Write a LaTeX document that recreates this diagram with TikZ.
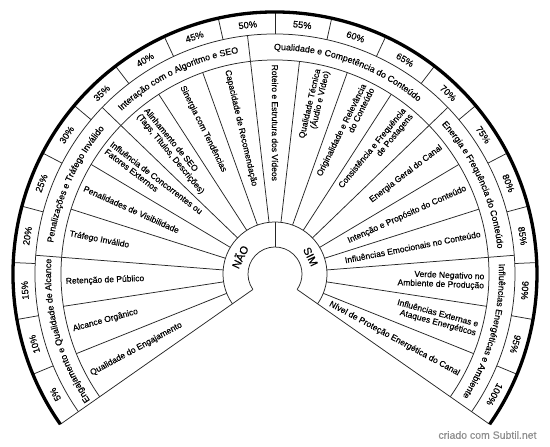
\documentclass[tikz,border=0pt]{standalone}
\usepackage{fontspec}
\setmainfont{Liberation Sans}[FakeBold=0.35]
\usetikzlibrary{decorations.text}
\newcommand\catfont{\fontsize{8.9}{10}\selectfont}
\begin{document}
\begin{tikzpicture}[
  thinline/.style={line width=0.75pt, draw=black!85},
  thickline/.style={line width=3.3pt, draw=black},
  itemtxt/.style={font=\fontsize{8.5}{9.1}\selectfont, inner sep=1pt},
  pcttxt/.style={font=\fontsize{9.3}{10}\selectfont, inner sep=0pt},
  yesno/.style={font=\fontsize{11}{12}\selectfont, inner sep=0pt},
  cattxt/.style={decorate, decoration={text along path, text align=center}}
]
\useasboundingbox (-275pt,-173pt) rectangle (275pt,274pt);

% rings
\draw[thinline] (215:240pt) arc[start angle=215, end angle=-35, radius=240pt];
\draw[thinline] (215:214pt) arc[start angle=215, end angle=-35, radius=214pt];
\draw[thinline] (215:52pt) arc[start angle=215, end angle=-35, radius=52pt];
\draw[thinline] (215:27pt) arc[start angle=215, end angle=-35, radius=27pt];
\draw[thinline] (215:27pt) -- (215:262pt);
\draw[thinline] (-35:27pt) -- (-35:262pt);
\draw[thinline] (90:27pt) -- (90:52pt);

% item spokes
\foreach \i in {1,...,18}{
  \pgfmathsetmacro\a{215-\i*250/19}
  \draw[thinline] (\a:52pt) -- (\a:214pt);
}
% category boundaries
\foreach \i in {3,6,9,13,16}{
  \pgfmathsetmacro\a{215-\i*250/19}
  \draw[thinline] (\a:214pt) -- (\a:240pt);
}
% percent spokes
\foreach \k in {1,...,19}{
  \pgfmathsetmacro\a{215-\k*12.5}
  \draw[thinline] (\a:240pt) -- (\a:262pt);
}
\draw[thickline] (215:262pt) arc[start angle=215, end angle=-35, radius=262pt];

% percent labels
\foreach \k in {1,...,20}{
  \pgfmathsetmacro\a{215-(\k-0.5)*12.5}
  \pgfmathsetmacro\r{\a-90}
  \pgfmathtruncatemacro\p{5*\k}
  \node[pcttxt, rotate=\r] (p\k) at (\a:250.5pt) {\p\%};
}

% items, NAO side (reading inward)
\foreach \i/\t in {1/{Qualidade do Engajamento},2/{Alcance Orgânico},3/{Retenção de Público},4/{Tráfego Inválido},5/{Penalidades de Visibilidade},6/{Influência de Concorrentes ou\\Fatores Externos},7/{Alinhamento de SEO\\(Tags, Títulos, Descrições)},8/{Sinergia com Tendências},9/{Capacidade de Recomendação},10/{Roteiro e Estrutura dos Vídeos}}{
  \pgfmathsetmacro\a{215-(\i-0.5)*250/19}
  \pgfmathsetmacro\r{\a-180}
  \node[itemtxt, align=left, anchor=west, rotate=\r] (it\i) at (\a:210.5pt) {\t};
}
% items, SIM side (reading outward)
\foreach \i/\t in {11/{Qualidade Técnica\\(Áudio e Vídeo)},12/{Originalidade e Relevância\\do Conteúdo},13/{Consistência e Frequência\\de Postagens},14/{Energia Geral do Canal},15/{Intenção e Propósito do Conteúdo},16/{Influências Emocionais no Conteúdo},17/{Verde Negativo no\\Ambiente de Produção},18/{Influências Externas e\\Ataques Energéticos},19/{Nível de Proteção Energética do Canal}}{
  \pgfmathsetmacro\a{215-(\i-0.5)*250/19}
  \node[itemtxt, align=right, anchor=east, rotate=\a] (it\i) at (\a:210.5pt) {\t};
}

% categories
\path[cattxt, decoration={text={|\catfont|Engajamento e Qualidade de Alcance}}]
  (215:224pt) arc[start angle=215, end angle=175.5263, radius=224pt];
\path[cattxt, decoration={text={|\catfont|Penalizações e Tráfego Inválido}}]
  (175.5263:224pt) arc[start angle=175.5263, end angle=136.0526, radius=224pt];
\path[cattxt, decoration={text={|\catfont|Interação com o Algoritmo e SEO}}]
  (136.0526:224pt) arc[start angle=136.0526, end angle=96.5789, radius=224pt];
\path[cattxt, decoration={text={|\catfont|Qualidade e Competência do Conteúdo}}]
  (96.5789:224pt) arc[start angle=96.5789, end angle=43.9474, radius=224pt];
\path[cattxt, decoration={text={|\catfont|Energia e Frequência do Conteúdo}}]
  (43.9474:224pt) arc[start angle=43.9474, end angle=4.4737, radius=224pt];
\path[cattxt, decoration={text={|\catfont|Influências Energéticas e Ambiente}}]
  (4.4737:224pt) arc[start angle=4.4737, end angle=-35, radius=224pt];

% NAO / SIM
\node[yesno, rotate=64] (nao) at (154:39.5pt) {NÃO};
\node[yesno, rotate=-64] (sim) at (26:39.5pt) {SIM};

% watermark
\node[text=black!45, font=\fontsize{10.5}{12}\selectfont, inner sep=0pt] (wm) at (212.5pt,-161pt) {criado com Subtil.net};
\end{tikzpicture}
\end{document}
